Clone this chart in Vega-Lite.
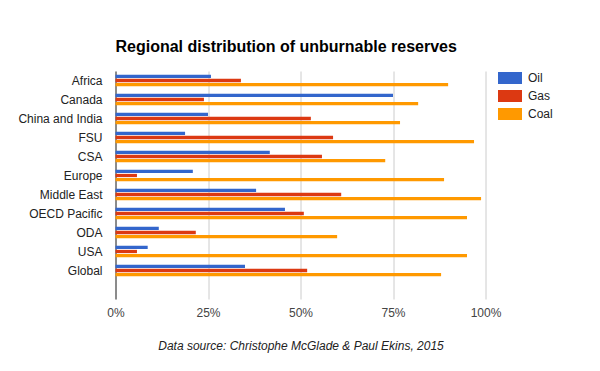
{
  "$schema": "https://vega.github.io/schema/vega-lite/v6.json",
  "autosize": "none",
  "width": 370,
  "height": 228,
  "padding": {"left": 115.5, "top": 71, "right": 114.5, "bottom": 72},
  "background": "white",
  "title": {
    "text": "Regional distribution of unburnable reserves",
    "anchor": "start",
    "frame": "group",
    "font": "Liberation Sans",
    "fontSize": 16,
    "fontWeight": "bold",
    "color": "#000000",
    "baseline": "alphabetic",
    "offset": -1.5
  },
  "data": {
    "values": [
      {"region": "Africa", "fuel": "Oil", "share": 25.8},
      {"region": "Africa", "fuel": "Gas", "share": 33.9},
      {"region": "Africa", "fuel": "Coal", "share": 89.9},
      {"region": "Canada", "fuel": "Oil", "share": 75.0},
      {"region": "Canada", "fuel": "Gas", "share": 23.9},
      {"region": "Canada", "fuel": "Coal", "share": 81.8},
      {"region": "China and India", "fuel": "Oil", "share": 25.0},
      {"region": "China and India", "fuel": "Gas", "share": 52.8},
      {"region": "China and India", "fuel": "Coal", "share": 76.9},
      {"region": "FSU", "fuel": "Oil", "share": 18.8},
      {"region": "FSU", "fuel": "Gas", "share": 58.8},
      {"region": "FSU", "fuel": "Coal", "share": 96.9},
      {"region": "CSA", "fuel": "Oil", "share": 41.7},
      {"region": "CSA", "fuel": "Gas", "share": 55.8},
      {"region": "CSA", "fuel": "Coal", "share": 72.9},
      {"region": "Europe", "fuel": "Oil", "share": 20.9},
      {"region": "Europe", "fuel": "Gas", "share": 5.8},
      {"region": "Europe", "fuel": "Coal", "share": 88.8},
      {"region": "Middle East", "fuel": "Oil", "share": 38.0},
      {"region": "Middle East", "fuel": "Gas", "share": 61.0},
      {"region": "Middle East", "fuel": "Coal", "share": 98.8},
      {"region": "OECD Pacific", "fuel": "Oil", "share": 45.8},
      {"region": "OECD Pacific", "fuel": "Gas", "share": 50.9},
      {"region": "OECD Pacific", "fuel": "Coal", "share": 95.0},
      {"region": "ODA", "fuel": "Oil", "share": 11.7},
      {"region": "ODA", "fuel": "Gas", "share": 21.7},
      {"region": "ODA", "fuel": "Coal", "share": 59.9},
      {"region": "USA", "fuel": "Oil", "share": 8.7},
      {"region": "USA", "fuel": "Gas", "share": 5.8},
      {"region": "USA", "fuel": "Coal", "share": 95.0},
      {"region": "Global", "fuel": "Oil", "share": 35.0},
      {"region": "Global", "fuel": "Gas", "share": 51.8},
      {"region": "Global", "fuel": "Coal", "share": 88.0}
    ]
  },
  "mark": {"type": "bar"},
  "encoding": {
    "y": {
      "field": "region",
      "type": "nominal",
      "sort": null,
      "scale": {
        "domain": ["Africa", "Canada", "China and India", "FSU", "CSA", "Europe", "Middle East", "OECD Pacific", "ODA", "USA", "Global", " "],
        "paddingInner": 0.4,
        "paddingOuter": 0.2
      },
      "axis": {
        "title": null,
        "ticks": false,
        "grid": false,
        "domain": true,
        "domainColor": "#333333",
        "domainWidth": 1,
        "labelFont": "Liberation Sans",
        "labelFontSize": 12,
        "labelColor": "#222222",
        "labelPadding": 13.5
      }
    },
    "yOffset": {
      "field": "fuel",
      "type": "nominal",
      "sort": ["Oil", "Gas", "Coal"],
      "scale": {"paddingInner": 0.2}
    },
    "x": {
      "field": "share",
      "type": "quantitative",
      "scale": {"domain": [0, 100], "nice": false},
      "axis": {
        "values": [0, 25, 50, 75, 100],
        "labelExpr": "datum.value + '%'",
        "title": "Data source: Christophe McGlade & Paul Ekins, 2015",
        "titleFont": "Liberation Sans",
        "titleFontSize": 12,
        "titleFontStyle": "italic",
        "titleFontWeight": "normal",
        "titleColor": "#222222",
        "titlePadding": 22,
        "domain": false,
        "ticks": false,
        "grid": true,
        "gridColor": "#cccccc",
        "labelFont": "Liberation Sans",
        "labelFontSize": 12,
        "labelColor": "#444444",
        "labelPadding": 8,
        "labelFlush": false
      }
    },
    "color": {
      "field": "fuel",
      "type": "nominal",
      "sort": ["Oil", "Gas", "Coal"],
      "scale": {"domain": ["Oil", "Gas", "Coal"], "range": ["#3366cc", "#dc3912", "#ff9900"]},
      "legend": {
        "title": null,
        "orient": "none",
        "legendX": 382.5,
        "legendY": -5,
        "padding": 0,
        "symbolType": "M-1,-0.5H1V0.5H-1Z",
        "symbolSize": 576,
        "symbolStrokeWidth": 0,
        "labelFont": "Liberation Sans",
        "labelFontSize": 12,
        "labelColor": "#222222",
        "labelOffset": 6,
        "rowPadding": -4.4
      }
    }
  },
  "config": {
    "view": {"stroke": null},
    "axis": {"zindex": 0}
  }
}
